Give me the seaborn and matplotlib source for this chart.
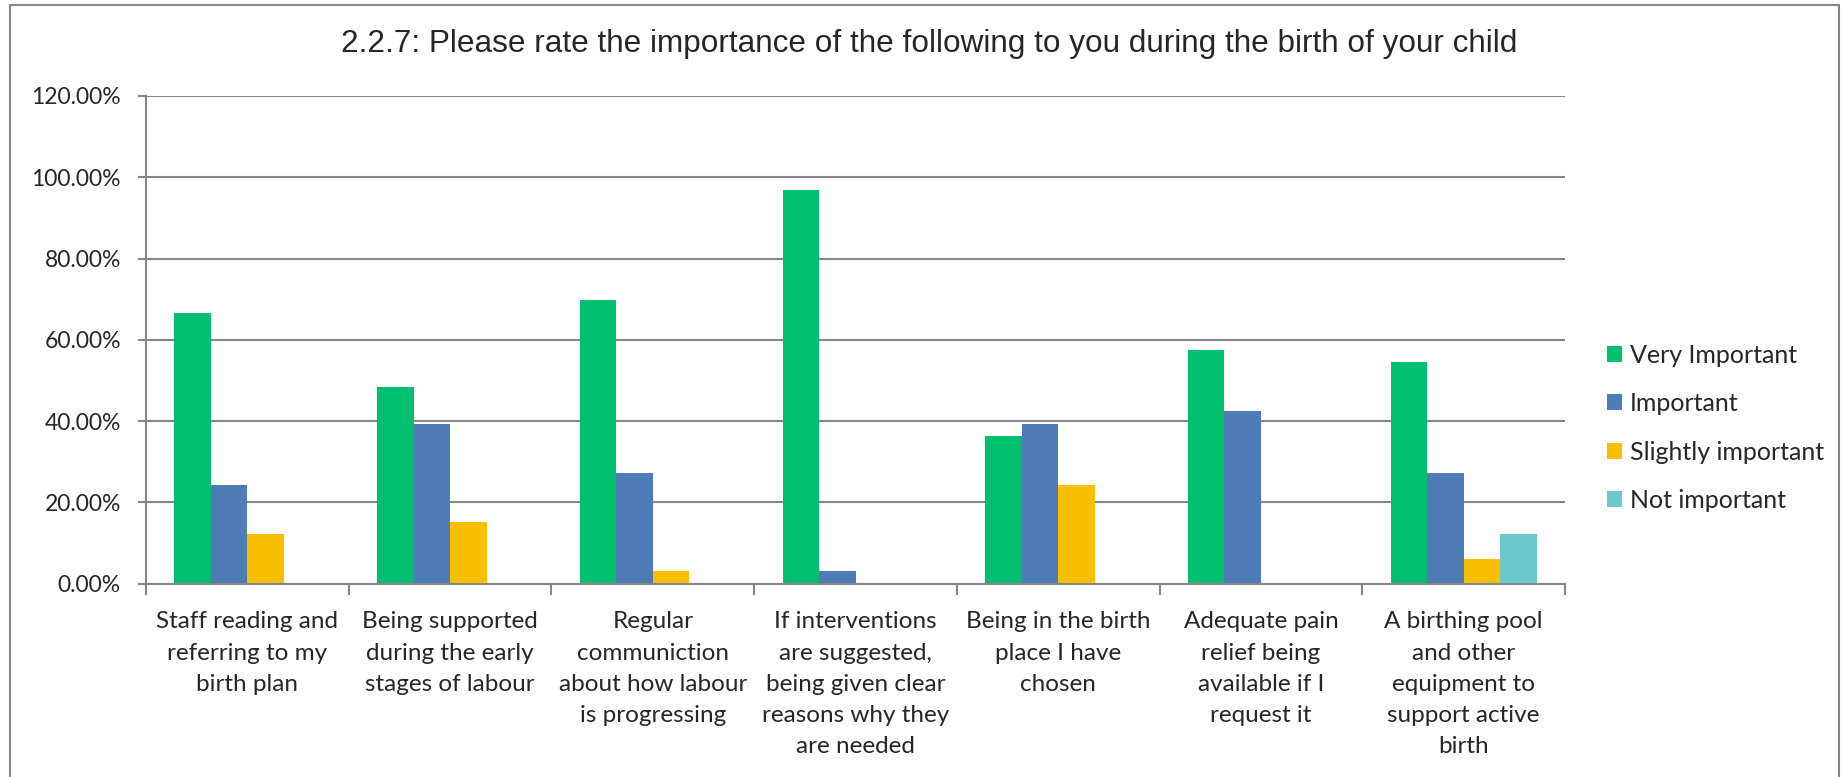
import numpy as np
import pandas as pd
import matplotlib
matplotlib.use("Agg")
import matplotlib.pyplot as plt
import seaborn as sns
from matplotlib.patches import Rectangle

# data (share of respondents)
items = ["Staff reading and\nreferring to my\nbirth plan",
         "Being supported\nduring the early\nstages of labour",
         "Regular\ncommuniction\nabout how labour\nis progressing",
         "If interventions\nare suggested,\nbeing given clear\nreasons why they\nare needed",
         "Being in the birth\nplace I have\nchosen",
         "Adequate pain\nrelief being\navailable if I\nrequest it",
         "A birthing pool\nand other\nequipment to\nsupport active\nbirth"]
levels = ["Very Important", "Important", "Slightly important", "Not important"]
very_important = [66.67, 48.48, 69.70, 96.97, 36.36, 57.58, 54.55]
important = [24.24, 39.39, 27.27, 3.03, 39.39, 42.42, 27.27]
slightly_important = [12.12, 15.15, 3.03, 0.0, 24.24, 0.0, 6.06]
not_important = [0.0, 0.0, 0.0, 0.0, 0.0, 0.0, 12.12]
colors = ["#00BF6F", "#4F7CB6", "#F8BE00", "#6BC8CC"]

df = pd.DataFrame({"item": items * 4,
                   "level": np.repeat(levels, len(items)),
                   "pct": very_important + important + slightly_important + not_important})

sns.set_style("white")
plt.rcParams['font.family'] = ['Lato', 'DejaVu Sans']

W, H = 1845, 777
fig = plt.figure(figsize=(W / 100, H / 100), dpi=100)
ax = fig.add_axes([146 / W, 1 - 583.7 / H, (1565 - 146) / W, (583.7 - 96) / H])

sns.barplot(data=df, x="item", y="pct", hue="level", palette=colors,
            width=0.72, gap=0, linewidth=0, saturation=1, ax=ax, legend=True)

ax.set_ylim(0, 120)
ax.set_xlim(-0.5, len(items) - 0.5)
ax.set_yticks(np.arange(0, 121, 20))
ax.set_yticklabels([f"{v:.2f}%" for v in np.arange(0, 121, 20)], fontsize=16.5)
ax.set_xlabel("")
ax.set_ylabel("")
ax.yaxis.grid(True, color="#868686", linewidth=1.5)
ax.set_axisbelow(True)
for s in ["top", "right"]:
    ax.spines[s].set_visible(False)
for s in ["left", "bottom"]:
    ax.spines[s].set_color("#868686")
    ax.spines[s].set_linewidth(1.5)
ax.tick_params(axis="y", which="major", left=True, length=6, width=1.5, color="#868686", pad=12)
# category boundaries get the tick marks, labels sit in the middle
ax.set_xticks(np.arange(-0.5, len(items), 1), minor=True)
ax.tick_params(axis="x", which="minor", bottom=True, length=8, width=1.5, color="#868686")
ax.tick_params(axis="x", which="major", length=0, pad=20)
for t in ax.get_xticklabels():
    t.set_fontsize(17.5)
    t.set_linespacing(1.6)
    t.set_verticalalignment("top")

ax.legend(loc="upper left", bbox_to_anchor=(1584 / W, 1 - 321 / H), bbox_transform=fig.transFigure,
          frameon=False, fontsize=18, handlelength=0.62, handleheight=0.62, handletextpad=0.33,
          labelspacing=1.02)

fig.text(929 / W, 1 - 44 / H, "2.2.7: Please rate the importance of the following to you during the birth of your child",
         ha="center", va="center", fontsize=22.7, family=["Liberation Sans", "DejaVu Sans"])

fig.patches.append(Rectangle((10 / W, -0.1), (1839 - 10) / W, 1.1 - 5 / H, transform=fig.transFigure,
                             fill=False, edgecolor="#868686", linewidth=1.5))

fig.savefig("out.png", dpi=100)
